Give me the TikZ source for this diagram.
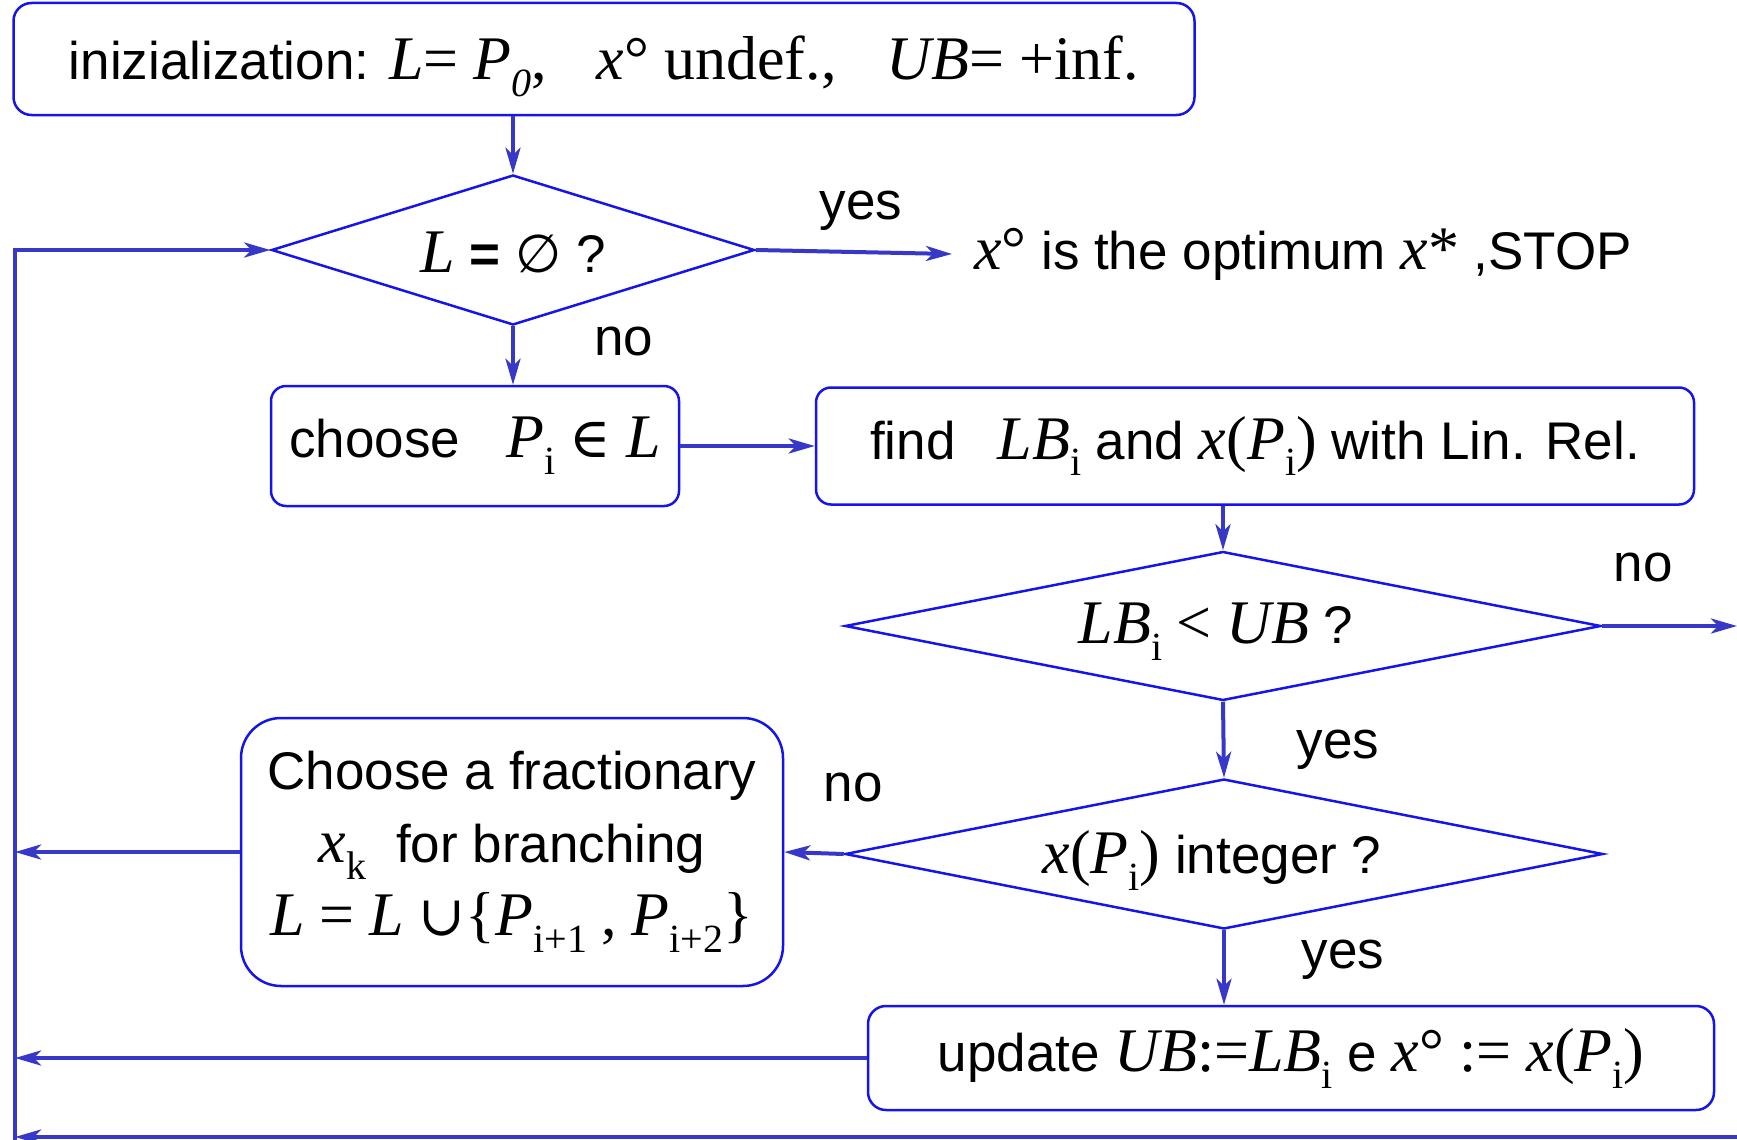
\documentclass[tikz,border=0pt]{standalone}
\usepackage{fontspec}
\setmainfont{Liberation Sans}
\newfontfamily\tms{Liberation Serif}
\newfontfamily\sym{DejaVu Serif}
\newfontfamily\symsans{DejaVu Sans}
\usetikzlibrary{shapes.geometric,arrows.meta}

% serif pieces: italic variables, upright symbols, upright subscripts
\newcommand\mv[1]{{\tms\fontsize{62}{73}\selectfont\itshape #1}}
\newcommand\sv[1]{{\tms\fontsize{62}{73}\selectfont #1}}
\newcommand\sbs[1]{\raisebox{-0.32em}{\tms\fontsize{40}{40}\selectfont #1}}
\newcommand\opx[1]{{\sym\fontsize{56}{73}\selectfont #1}}

\definecolor{boxblue}{RGB}{20,20,235}
\definecolor{lineblue}{RGB}{55,55,200}

\begin{document}
\begin{tikzpicture}[x=1pt,y=-1pt,
  box/.style={draw=boxblue, line width=2.5pt, rounded corners=18pt,
    inner sep=0pt, align=center, font=\fontsize{53}{73}\selectfont},
  dec/.style={diamond, draw=boxblue, line width=2.5pt, inner sep=0pt},
  conn/.style={draw=lineblue, line width=4pt,
    -{Stealth[length=26pt,width=15pt,inset=7pt]}},
  lbl/.style={font=\fontsize{53}{64}\selectfont, inner sep=0pt}]
\useasboundingbox (0,0) rectangle (1737,1140);

% process boxes
\node[box, minimum width=1181pt, minimum height=112pt, text height=50pt, text depth=8pt] (init) at (604,59)
  {inizialization: \mv{L}\sv{=} \mv{P}\sbs{\itshape 0}\sv{,}\hspace{50pt}\mv{x}\sv{° undef.,}\hspace{50pt}\mv{UB}\sv{= +inf.}};
\node[box, rounded corners=15pt, minimum width=408pt, minimum height=120pt] (choose) at (475,446)
  {choose\hspace{46pt}\mv{P}\sbs{i} \opx{∈} \mv{L}};
\node[box, rounded corners=15pt, minimum width=878pt, minimum height=117pt] (find) at (1255,446)
  {find\hspace{42pt}\mv{LB}\sbs{i} and \mv{x}\sv{(}\mv{P}\sbs{i}\sv{)} with Lin. Rel.};
\node[box, rounded corners=40pt, minimum width=542pt, minimum height=268pt] (branch) at (512,852)
  {Choose a fractionary\\
   \mv{x}\sbs{k}\hspace{30pt}for branching\\
   \mv{L} \sv{=} \mv{L} \opx{∪}\sv{\{}\mv{P}\sbs{i+1} \sv{,} \mv{P}\sbs{i+2}\sv{\}}};
\node[box, minimum width=846pt, minimum height=104pt] (update) at (1291,1058)
  {update \mv{UB}\sv{:=}\mv{LB}\sbs{i} e \mv{x}\sv{° :=} \mv{x}\sv{(}\mv{P}\sbs{i}\sv{)}};

% decisions
\node[dec, minimum width=483pt, minimum height=150pt] (d1) at (513,250) {};
\node[lbl] (d1t) at (513,252) {\mv{L} {\bfseries =} {\symsans ∅} ?};
\node[dec, minimum width=756pt, minimum height=149pt] (d2) at (1223,626) {};
\node[lbl] (d2t) at (1216,632) {\mv{LB}\sbs{i} \sv{<} \mv{UB} ?};
\node[dec, minimum width=758pt, minimum height=150pt] (d3) at (1224,854) {};
\node[lbl] (d3t) at (1212,860) {\mv{x}\sv{(}\mv{P}\sbs{i}\sv{)} integer ?};

% outcome text
\node[lbl, anchor=west] (stop) at (974,254) {\mv{x}\sv{°} is the optimum \mv{x}\sv{*} ,STOP};

% branch labels
\node[lbl] (y1) at (861,211) {yes};
\node[lbl] (n1) at (624,341) {no};
\node[lbl] (n2) at (1643,567) {no};
\node[lbl] (y2) at (1338,750) {yes};
\node[lbl] (n3) at (853,787) {no};
\node[lbl] (y3) at (1343,960) {yes};

% loop rail on the left and bottom
\coordinate (railB) at (15,1137);
\coordinate (railT) at (15,1140);
\coordinate (edgeB) at (1737,1137);
\coordinate (edgeR) at (1737,626);

% connectors
\draw[conn] (d1.north |- init.south) -- (d1.north);
\draw[conn] (d1.east) -- ([xshift=-22pt]stop.west);
\draw[conn] (d1.south) -- (d1.south |- choose.north);
\draw[conn] (choose.east) -- (find.west);
\draw[conn] (d2.north |- find.south) -- (d2.north);
\draw[conn] (d2.east) -- (edgeR);
\draw[conn] (d2.south) -- (d3.north);
\draw[conn] (d3.west) -- (branch.east);
\draw[conn] (d3.south) -- (d3.south |- update.north);
\draw[conn] (branch.west) -- (branch.west -| railB);
\draw[conn] (update.west) -- (update.west -| railB);
\draw[conn] (edgeB) -- (railB);
\draw[conn] (railT) -- (d1.west -| railB) -- (d1.west);
\end{tikzpicture}
\end{document}
